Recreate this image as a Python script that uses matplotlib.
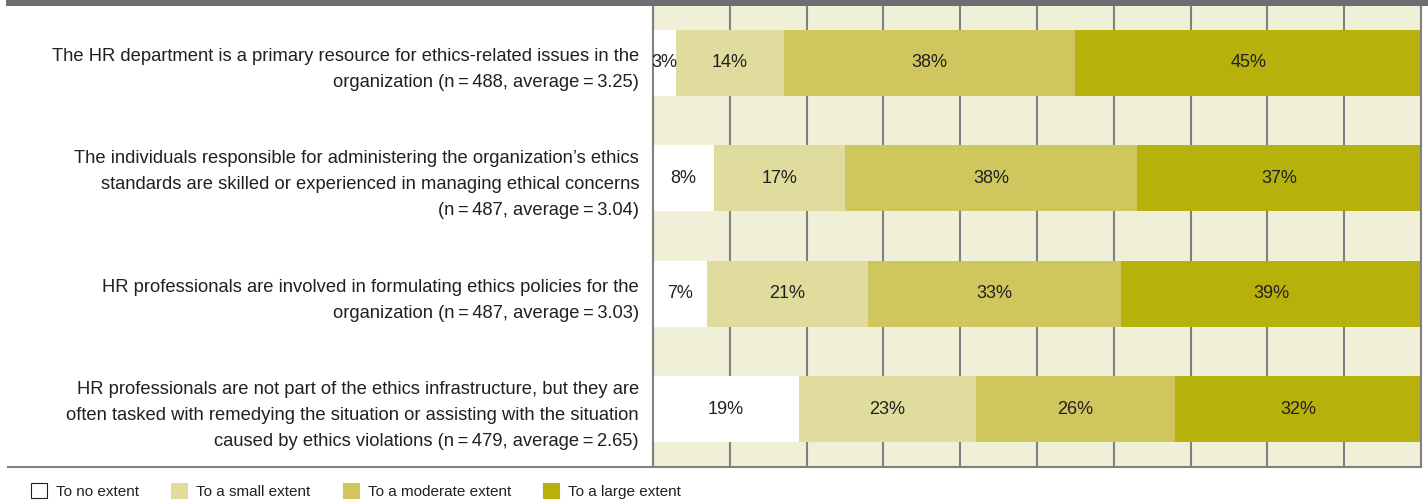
import matplotlib
matplotlib.use("Agg")
import matplotlib.pyplot as plt
from matplotlib.lines import Line2D
from matplotlib.patches import Rectangle

plt.rcParams['font.family'] = ['Liberation Sans', 'DejaVu Sans']

# statements (top to bottom)
statements = [
    "The HR department is a primary resource for ethics-related issues in the\norganization (n\u2009=\u2009488, average\u2009=\u20093.25)",
    "The individuals responsible for administering the organization\u2019s ethics\nstandards are skilled or experienced in managing ethical concerns\n(n\u2009=\u2009487, average\u2009=\u20093.04)",
    "HR professionals are involved in formulating ethics policies for the\norganization (n\u2009=\u2009487, average\u2009=\u20093.03)",
    "HR professionals are not part of the ethics infrastructure, but they are\noften tasked with remedying the situation or assisting with the situation\ncaused by ethics violations (n\u2009=\u2009479, average\u2009=\u20092.65)",
]
categories = ["To no extent", "To a small extent", "To a moderate extent", "To a large extent"]
no_extent = [3, 8, 7, 19]
small_extent = [14, 17, 21, 23]
moderate_extent = [38, 38, 33, 26]
large_extent = [45, 37, 39, 32]

colors = ["#ffffff", "#e0dc9d", "#cfc75d", "#b7b20b"]
bg = "#f0f0d8"
grid_c = "#808080"
txt = "#231f20"

fig = plt.figure(figsize=(14.28, 5.04), dpi=100)
ax = fig.add_axes([653/1428, 1-467/504, 768/1428, 462/504])
ax.set_facecolor(bg)

series = [no_extent, small_extent, moderate_extent, large_extent]
ypos = list(range(len(statements)))
left = [0] * len(statements)
for vals, col, name in zip(series, colors, categories):
    bars = ax.barh(ypos, vals, left=left, height=0.575, color=col, label=name, zorder=2)
    for b, v in zip(bars, vals):
        ax.text(b.get_x() + b.get_width()/2, b.get_y() + b.get_height()/2, f"{v}%",
                ha='center', va='center', fontsize=13, color=txt, zorder=3)
    left = [l + v for l, v in zip(left, vals)]

ax.set_xlim(0, 100)
ax.set_ylim(3.5, -0.5)
ax.set_xticks(range(0, 101, 10))
ax.xaxis.grid(True, color=grid_c, linewidth=1.5)
ax.set_axisbelow(True)
ax.tick_params(axis='x', length=0, labelbottom=False)
ax.set_yticks(ypos)
ax.set_yticklabels(statements, fontsize=13.2, color=txt, linespacing=1.7, multialignment='right')
ax.tick_params(axis='y', length=0, pad=10)
for s in ['top', 'bottom']:
    ax.spines[s].set_visible(False)
for s in ['left', 'right']:
    ax.spines[s].set_color(grid_c)
    ax.spines[s].set_linewidth(1.5)

# top dark band and bottom rule
fig.add_artist(Rectangle((6/1428, 1-6/504), 1-6/1428, 6/504, transform=fig.transFigure,
                         color="#6d6e71", lw=0))
fig.add_artist(Line2D([8/1428, 1421/1428], [1-467/504, 1-467/504], transform=fig.transFigure,
                      color=grid_c, lw=1.5))

handles = [Rectangle((0, 0), 1, 1, facecolor=c, edgecolor=(txt if c == "#ffffff" else c), lw=0.8)
           for c in colors]
fig.legend(handles, categories, loc='center left', bbox_to_anchor=(17/1428, 1-491/504),
           ncol=4, frameon=False, fontsize=11, handlelength=1.05, handleheight=1.05,
           handletextpad=0.6, columnspacing=2.1, labelcolor=txt)

fig.savefig("out.png", dpi=100)
